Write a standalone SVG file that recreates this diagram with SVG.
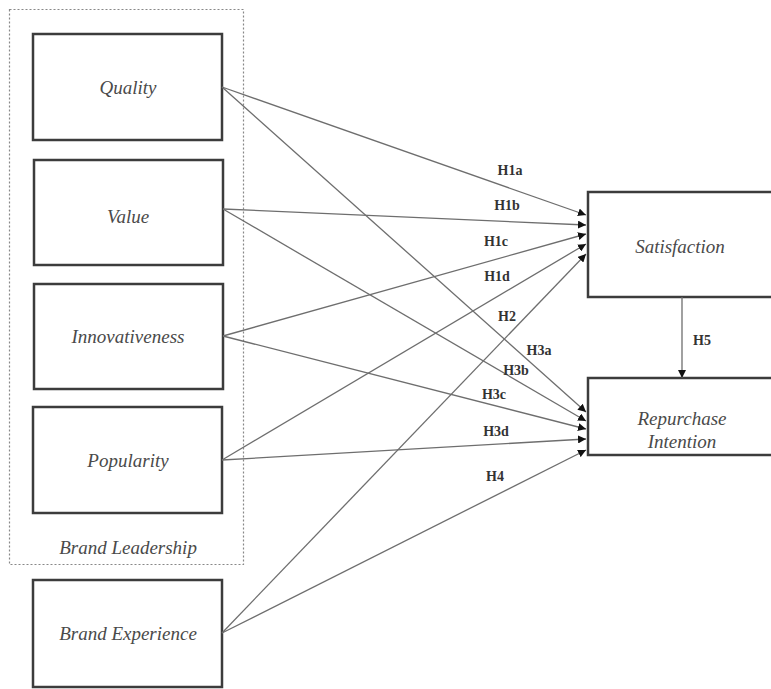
<svg xmlns="http://www.w3.org/2000/svg" width="771" height="689" viewBox="0 0 771 689">
<style>
.box{fill:#fff;stroke:#3c3c3c;stroke-width:2.5}
.lbl{font-family:"Liberation Serif","DejaVu Serif",serif;font-style:italic;font-size:19px;fill:#4a4a4a;text-anchor:middle}
.h{font-family:"Liberation Serif","DejaVu Serif",serif;font-weight:bold;font-size:14px;fill:#333;text-anchor:middle}
.c{stroke:#6e6e6e;stroke-width:1.3;fill:none;marker-end:url(#ah)}
</style>
<defs>
<marker id="ah" viewBox="0 0 10 10" refX="10" refY="5" markerWidth="8" markerHeight="8" markerUnits="userSpaceOnUse" orient="auto">
<path d="M0,0 L10,5 L0,10 z" fill="#111"/>
</marker>
</defs>
<rect width="771" height="689" fill="#fff"/>
<g id="brand-leadership">
<rect x="9.5" y="9.5" width="234" height="555" fill="none" stroke="#888" stroke-width="1.2" stroke-dasharray="2,2"/>
<text class="lbl" x="128" y="554">Brand Leadership</text>
</g>
<g id="quality"><rect class="box" x="33" y="34" width="189" height="106"/><text class="lbl" x="128" y="94">Quality</text></g>
<g id="value"><rect class="box" x="34" y="160" width="189" height="105"/><text class="lbl" x="128" y="223">Value</text></g>
<g id="innovativeness"><rect class="box" x="34" y="284" width="189" height="105"/><text class="lbl" x="128" y="343">Innovativeness</text></g>
<g id="popularity"><rect class="box" x="33" y="407" width="189" height="106"/><text class="lbl" x="128" y="467">Popularity</text></g>
<g id="brand-experience"><rect class="box" x="33" y="580" width="189" height="107"/><text class="lbl" x="128" y="640">Brand Experience</text></g>
<g id="satisfaction"><rect class="box" x="588" y="192" width="200" height="105"/><text class="lbl" x="680" y="253">Satisfaction</text></g>
<g id="repurchase"><rect class="box" x="588" y="378" width="200" height="77"/><text class="lbl" x="682" y="425">Repurchase</text><text class="lbl" x="682" y="448">Intention</text></g>
<g id="connectors">
<line class="c" x1="222" y1="87" x2="586" y2="215"/>
<line class="c" x1="223" y1="209" x2="586" y2="225"/>
<line class="c" x1="223" y1="336" x2="586" y2="234"/>
<line class="c" x1="222" y1="460" x2="586" y2="244"/>
<line class="c" x1="222" y1="633" x2="586" y2="254"/>
<line class="c" x1="222" y1="87" x2="586" y2="412"/>
<line class="c" x1="223" y1="209" x2="586" y2="421"/>
<line class="c" x1="223" y1="336" x2="586" y2="429"/>
<line class="c" x1="222" y1="460" x2="586" y2="439"/>
<line class="c" x1="222" y1="633" x2="586" y2="450"/>
<line class="c" x1="682" y1="297" x2="682" y2="378"/>
</g>
<g id="labels">
<text class="h" x="510" y="175">H1a</text>
<text class="h" x="507" y="210">H1b</text>
<text class="h" x="496" y="246">H1c</text>
<text class="h" x="497" y="281">H1d</text>
<text class="h" x="507" y="321">H2</text>
<text class="h" x="539" y="355">H3a</text>
<text class="h" x="516" y="375">H3b</text>
<text class="h" x="494" y="399">H3c</text>
<text class="h" x="496" y="436">H3d</text>
<text class="h" x="495" y="481">H4</text>
<text class="h" x="702" y="345">H5</text>
</g>
</svg>
